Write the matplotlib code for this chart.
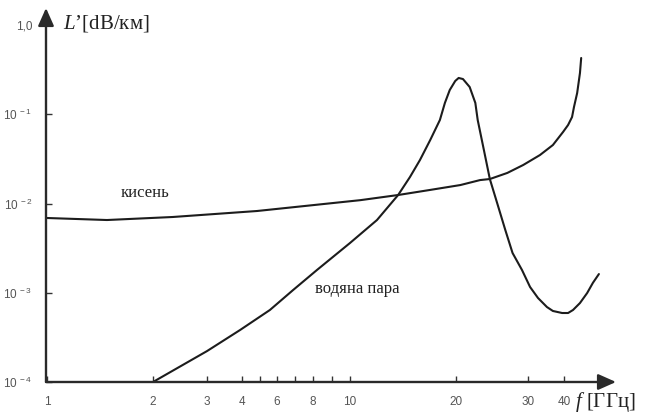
import numpy as np
import matplotlib
matplotlib.use("Agg")
import matplotlib.pyplot as plt
from matplotlib.ticker import FixedLocator, FixedFormatter, NullLocator

plt.rcParams["mathtext.fontset"] = "custom"
plt.rcParams["mathtext.it"] = "Liberation Serif:italic"
plt.rcParams["mathtext.rm"] = "Liberation Serif"

# attenuation in oxygen, dB/km vs GHz
o2_f = [1.0, 1.48, 2.32, 4.82, 10.7, 13.7, 16.9, 20.5, 22.9, 24.2, 26.7,
        29.2, 33.0, 36.6, 39.7, 41.2, 42.4, 43.0, 44.0, 44.9, 45.3]
o2_loss = [6.88e-3, 6.53e-3, 7.06e-3, 8.24e-3, 1.09e-2, 1.245e-2, 1.42e-2,
           1.61e-2, 1.83e-2, 1.88e-2, 2.20e-2, 2.70e-2, 3.49e-2, 4.52e-2,
           6.33e-2, 7.58e-2, 9.31e-2, 0.1206, 0.173, 0.290, 0.427]

# attenuation in water vapour
h2o_f = [2.0, 3.0, 3.94, 5.56, 6.88, 8.2, 10.0, 11.93, 13.7, 14.8, 15.8,
         16.9, 18.0, 18.6, 19.2, 19.9, 20.3, 20.8, 21.6, 22.3, 22.6, 23.4,
         24.2, 25.3, 26.4, 27.5, 29.0, 30.5, 32.5, 34.9, 36.6, 39.4, 41.2,
         42.7, 44.9, 47.3, 49.3, 51.5]
h2o_loss = [1e-4, 2.22e-4, 3.83e-4, 6.41e-4, 1.07e-3, 1.80e-3, 3.61e-3,
            6.53e-3, 1.245e-2, 1.98e-2, 3.07e-2, 5.15e-2, 8.62e-2, 0.134,
            0.187, 0.236, 0.255, 0.248, 0.202, 0.134, 8.62e-2, 3.98e-2,
            1.88e-2, 9.62e-3, 5.05e-3, 2.79e-3, 1.80e-3, 1.16e-3, 8.73e-4,
            6.92e-4, 6.25e-4, 5.93e-4, 5.93e-4, 6.41e-4, 7.67e-4, 9.93e-4,
            1.29e-3, 1.62e-3]

x_ticks = [1, 2, 3, 4, 6, 8, 10, 20, 30, 40]
x_minor = [5, 7, 9]
y_ticks = [1e-4, 1e-3, 1e-2, 1e-1, 1.0]
y_labels = [r"$\mathregular{10^{\ -4}}$", r"$\mathregular{10^{\ -3}}$",
            r"$\mathregular{10^{\ -2}}$", r"$\mathregular{10^{\ -1}}$", "1,0"]

# the frequency axis of the drawing is only roughly logarithmic,
# so it is laid out piecewise between the marked frequencies
axis_f = np.log10([0.5, 1, 2, 3, 4, 5, 6, 7, 8, 9, 10, 20, 30, 40, 60, 100])
axis_px = np.array([-59, 47, 153, 207, 242, 260, 277, 295, 313, 332, 350,
                    456, 528, 564, 620, 687], dtype=float)


def f_to_px(v):
    v = np.clip(np.asarray(v, dtype=float), 1e-3, None)
    return np.interp(np.log10(v), axis_f, axis_px)


def px_to_f(p):
    return 10 ** np.interp(p, axis_px, axis_f)


W, H = 646, 419
fig = plt.figure(figsize=(W / 100, H / 100), dpi=100)
ax = fig.add_axes([46 / W, (H - 382) / H, (616 - 46) / W, (382 - 8) / H])

ax.set_xscale("function", functions=(f_to_px, px_to_f))
ax.set_yscale("log")
ax.set_xlim(px_to_f(46), px_to_f(616))
ax.set_ylim(1e-4, 10 ** (17 / 89.25))

line_kw = dict(color="#1c1c1c", lw=1.5, solid_joinstyle="round",
               solid_capstyle="round")
ax.plot(o2_f, o2_loss, **line_kw)
ax.plot(h2o_f, h2o_loss, **line_kw)

ax.text(1.9, 1.31e-2, "кисень", family="Liberation Serif", fontsize=12,
        ha="center", va="center", color="#222222")
ax.text(8.1, 1.10e-3, "водяна пара", family="Liberation Serif", fontsize=12,
        ha="left", va="center", color="#222222")

# axes drawn as arrows
for s in ax.spines.values():
    s.set_visible(False)
arrow = dict(arrowstyle="-|>,head_length=0.9,head_width=0.4", color="#2a2a2a",
             lw=1.7, mutation_scale=12, shrinkA=0, shrinkB=0)
ax.annotate("", xy=(1, 0), xytext=(0, 0), xycoords="axes fraction",
            arrowprops=arrow, annotation_clip=False)
ax.annotate("", xy=(0, 1), xytext=(0, 0), xycoords="axes fraction",
            arrowprops=arrow, annotation_clip=False)

ax.xaxis.set_major_locator(FixedLocator(x_ticks))
ax.xaxis.set_major_formatter(FixedFormatter([str(t) for t in x_ticks]))
ax.xaxis.set_minor_locator(FixedLocator(x_minor))
ax.yaxis.set_major_locator(FixedLocator(y_ticks))
ax.yaxis.set_major_formatter(FixedFormatter(y_labels))
ax.yaxis.set_minor_locator(NullLocator())

ax.tick_params(which="both", direction="in", length=4, width=1,
               color="#333333", labelsize=8.5, labelcolor="#555555")
ax.tick_params(axis="x", pad=10)
ax.tick_params(axis="y", pad=10)
for lab in ax.get_xticklabels() + ax.get_yticklabels():
    lab.set_family("Liberation Sans")

fig.text(63 / W, 1 - 23 / H, "$L$’[dB/км]", family="Liberation Serif",
         fontsize=15, ha="left", va="center", color="#222222")
fig.text(575 / W, 1 - 402 / H, "$f$ [ГГц]", family="Liberation Serif",
         fontsize=15, ha="left", va="center", color="#222222")

fig.savefig("out.png", dpi=100)
